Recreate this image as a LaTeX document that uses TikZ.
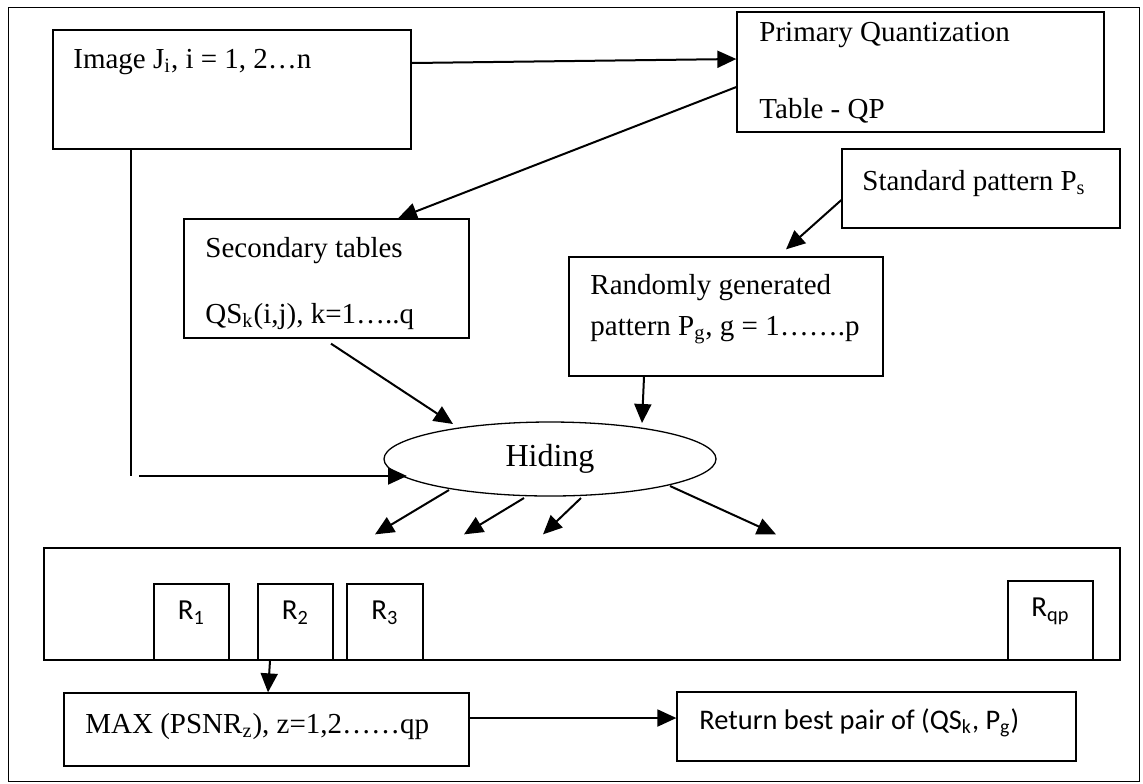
\documentclass[tikz,border=0pt]{standalone}
\usepackage{fontspec}
\setmainfont{Liberation Serif}
\newfontfamily\calfont{Carlito}
\usetikzlibrary{arrows.meta,fit,shapes.geometric}

\begin{document}
\begin{tikzpicture}[x=0.5pt, y=-0.5pt,
        box/.style={draw, line width=0.65pt, inner sep=0pt},
        cell/.style={box, font=\calfont\fontsize{14.5}{17}\selectfont},
        txt/.style={anchor=base west, inner sep=0pt, font=\fontsize{14.5}{17}\selectfont},
        arr/.style={-{Triangle[length=9.5pt, width=8.5pt]}, line width=1pt}]
    \useasboundingbox (0,0) rectangle (1143,783);
    \draw[line width=0.5pt] (8,7) rectangle (1139,781);

    % boxes
    \node[box, fit={(53,30) (411,149)}] (img) {};
    \node[box, fit={(737,12) (1104,132)}] (pq) {};
    \node[box, fit={(842,149) (1120,228)}] (std) {};
    \node[box, fit={(184,219) (469,338)}] (sec) {};
    \node[box, fit={(569,257) (883,376)}] (rnd) {};
    \node[box, ellipse, minimum width=166pt, minimum height=37pt,
          font=\fontsize{16}{19}\selectfont] (hide) at (550,459) {Hiding};
    \node[box, fit={(44,548) (1120,660)}] (rbox) {};
    \node[cell, fit={(154,584) (229,660)}] (r1) {R\textsubscript{1}};
    \node[cell, fit={(258,584) (333,660)}] (r2) {R\textsubscript{2}};
    \node[cell, fit={(347,584) (423,660)}] (r3) {R\textsubscript{3}};
    \node[cell, fit={(1008,581) (1093,660)}] (rqp) {R\textsubscript{qp}};
    \node[box, fit={(64,693) (469,766)}] (max) {};
    \node[box, fit={(677,692) (1076,761)}] (ret) {};

    % texts
    \node[txt] (imgt) at (73,68) {Image J\textsubscript{i}, i = 1, 2…n};
    \node[txt] (pqt1) at (759,41) {Primary Quantization};
    \node[txt] (pqt2) at (759,118) {Table - QP};
    \node[txt] (stdt) at (862,190) {Standard pattern P\textsubscript{s}};
    \node[txt] (sect1) at (205,257) {Secondary tables};
    \node[txt] (sect2) at (205,323) {QS\textsubscript{k}(i,j), k=1…..q};
    \node[txt] (rndt1) at (590,294) {Randomly generated};
    \node[txt] (rndt2) at (590,335) {pattern P\textsubscript{g}, g = 1…….p};
    \node[txt] (maxt) at (85,733) {MAX (PSNR\textsubscript{z}), z=1,2……qp};
    \node[txt, font=\calfont\fontsize{14.2}{17}\selectfont] (rett) at (699,729)
        {Return best pair of (QS\textsubscript{k}, P\textsubscript{g})};

    % connectors
    \draw[arr] ([yshift=13.25pt]img.east) -- ([yshift=6.5pt]pq.west);
    \draw[arr] ([yshift=-7.5pt]pq.west) -- ([xshift=35.75pt]sec.north);
    \draw[arr] ([yshift=-5.75pt]std.west) -- ([xshift=30pt, yshift=3.5pt]rnd.north);
    \draw[arr] ([xshift=2.25pt, yshift=-2.5pt]sec.south) -- ([xshift=-48.5pt, yshift=17.5pt]hide.center);
    \draw[arr] ([xshift=-41pt]rnd.south) -- ([xshift=46pt, yshift=18pt]hide.center);

    \coordinate (bend) at (131,476);
    \coordinate (feed) at (139,476);
    \draw[line width=0.7pt] (img.south -| bend) -- (bend);
    \draw[arr] (feed) -- ([xshift=-71.5pt, yshift=-8.5pt]hide.center);

    \foreach \sx/\sy/\ex in {-50.5/-15.5/-103.5, -13/-19.5/-59, 15.5/-19.5/-19.5, 60/-13.5/97} {
        \draw[arr] ([xshift=\sx pt, yshift=\sy pt]hide.center) -- ([xshift=\ex pt, yshift=6.5pt]rbox.north);
    }

    \draw[arr] ([xshift=-12.75pt]r2.south) -- ([xshift=0.75pt]max.north);
    \coordinate (maxout) at ([yshift=5.75pt]max.east);
    \draw[arr] (maxout) -- (maxout -| ret.west);
\end{tikzpicture}
\end{document}
